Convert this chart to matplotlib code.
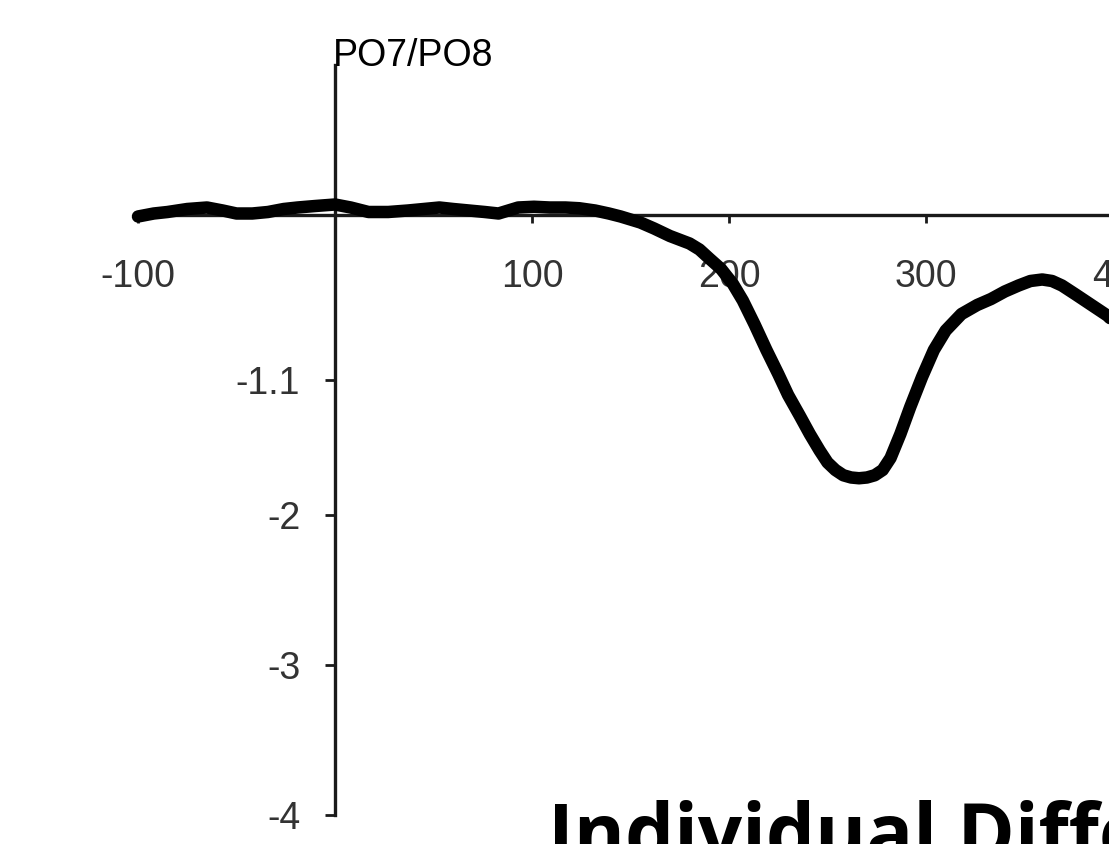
import matplotlib
matplotlib.use("Agg")
import matplotlib.pyplot as plt

# ERP difference wave (time in ms, amplitude)
time_ms = [-100, -92, -85, -75, -65, -57, -50, -42, -34, -26, -19, -10, 0, 8, 17,
           27, 37, 45, 53, 60, 68, 76, 83, 88, 93, 101, 109, 117, 124, 132, 139,
           145, 150, 155, 162, 170, 175, 180, 185, 190, 196, 202, 207, 213, 219,
           225, 230, 236, 241, 246, 250, 254, 258, 262, 266, 270, 274, 278, 282,
           287, 292, 298, 304, 310, 318, 326, 333, 340, 347, 353, 359, 364, 369,
           376, 384, 392, 400, 420]
amplitude = [-0.01, 0.01, 0.02, 0.04, 0.05, 0.03, 0.01, 0.01, 0.02, 0.04, 0.05,
             0.06, 0.07, 0.05, 0.02, 0.02, 0.03, 0.04, 0.05, 0.04, 0.03, 0.02,
             0.01, 0.03, 0.05, 0.055, 0.05, 0.05, 0.045, 0.03, 0.01, -0.01, -0.03,
             -0.05, -0.09, -0.14, -0.165, -0.19, -0.23, -0.29, -0.36, -0.46, -0.57,
             -0.73, -0.9, -1.06, -1.2, -1.34, -1.46, -1.57, -1.65, -1.7, -1.735,
             -1.75, -1.755, -1.75, -1.735, -1.7, -1.62, -1.46, -1.28, -1.08, -0.9,
             -0.77, -0.66, -0.6, -0.56, -0.51, -0.47, -0.44, -0.43, -0.44, -0.47,
             -0.53, -0.6, -0.67, -0.77, -1.0]

x_ticks = [-100, 100, 200, 300, 400]
x_labels = ["-100", "100", "200", "300", "400"]
y_ticks = [-1.1, -2, -3, -4]
y_labels = ["-1.1", "-2", "-3", "-4"]
channel = "PO7/PO8"
slide_title = "Individual Differences"

fig = plt.figure(figsize=(11.09, 8.44), dpi=100)
ax = fig.add_axes([0, 0, 1200 / 1109, 1])
ax.set_xlim(-335 / 1.97, (1200 - 335) / 1.97)
ax.set_ylim(-(844 - 215) / 150, 215 / 150)

ax.plot(time_ms, amplitude, color="black", lw=9, solid_joinstyle="round",
        solid_capstyle="round", zorder=3)

# axes cross at the origin
for s in ["top", "right"]:
    ax.spines[s].set_visible(False)
ax.spines["left"].set_position(("data", 0))
ax.spines["bottom"].set_position(("data", 0))
ax.spines["left"].set_bounds(-4, 1.0)
ax.spines["bottom"].set_bounds(-100, 440)
for s in ["left", "bottom"]:
    ax.spines[s].set_linewidth(2.4)
    ax.spines[s].set_color("#1a1a1a")

ax.set_xticks(x_ticks)
ax.set_xticklabels(x_labels)
ax.set_yticks(y_ticks)
ax.set_yticklabels(y_labels)
ax.tick_params(axis="x", direction="out", length=6, width=2, color="#1a1a1a",
               pad=26, labelsize=27, labelcolor="#333333")
ax.tick_params(axis="y", direction="out", length=7, width=2, color="#1a1a1a",
               pad=18, labelsize=27, labelcolor="#333333")
for lab in ax.get_xticklabels() + ax.get_yticklabels():
    lab.set_fontfamily("Liberation Sans")

ax.text(-1, 1.06, channel, fontsize=27, fontfamily="Liberation Sans",
        ha="left", va="center", color="black")

fig.text(548 / 1109, -16 / 844, slide_title, fontsize=56, fontweight="bold",
         fontfamily="Open Sans", ha="left", va="baseline", color="black")

fig.savefig("out.png", dpi=100)
